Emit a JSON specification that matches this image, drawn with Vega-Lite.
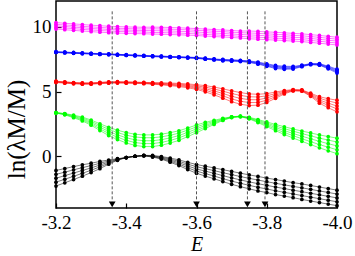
{
"$schema":"https://vega.github.io/schema/vega-lite/v6.json",
"width":281,"height":207,
"autosize":{"type":"none"},
"padding":{"left":56,"top":1,"right":18,"bottom":48},
"background":"white",
"config":{"view":{"stroke":"black","strokeWidth":1.5},
"axis":{"labelFont":"Liberation Serif","titleFont":"Liberation Serif","labelColor":"black","titleColor":"black","domain":false,"tickColor":"black","tickWidth":1.2,"grid":false}},
"data":{"values":[
{"b":"k","l":0,"x":-3.2,"y":-2.3},{"b":"k","l":1,"x":-3.2,"y":-2.0},{"b":"k","l":2,"x":-3.2,"y":-1.7},{"b":"k","l":3,"x":-3.2,"y":-1.4},{"b":"k","l":4,"x":-3.2,"y":-1.1},
{"b":"k","l":0,"x":-3.225,"y":-2.05},{"b":"k","l":1,"x":-3.225,"y":-1.78},{"b":"k","l":2,"x":-3.225,"y":-1.5},{"b":"k","l":3,"x":-3.225,"y":-1.23},{"b":"k","l":4,"x":-3.225,"y":-0.95},
{"b":"k","l":0,"x":-3.25,"y":-1.8},{"b":"k","l":1,"x":-3.25,"y":-1.55},{"b":"k","l":2,"x":-3.25,"y":-1.3},{"b":"k","l":3,"x":-3.25,"y":-1.05},{"b":"k","l":4,"x":-3.25,"y":-0.8},
{"b":"k","l":0,"x":-3.275,"y":-1.54},{"b":"k","l":1,"x":-3.275,"y":-1.32},{"b":"k","l":2,"x":-3.275,"y":-1.1},{"b":"k","l":3,"x":-3.275,"y":-0.88},{"b":"k","l":4,"x":-3.275,"y":-0.66},
{"b":"k","l":0,"x":-3.3,"y":-1.26},{"b":"k","l":1,"x":-3.3,"y":-1.08},{"b":"k","l":2,"x":-3.3,"y":-0.9},{"b":"k","l":3,"x":-3.3,"y":-0.72},{"b":"k","l":4,"x":-3.3,"y":-0.54},
{"b":"k","l":0,"x":-3.325,"y":-0.96},{"b":"k","l":1,"x":-3.325,"y":-0.82},{"b":"k","l":2,"x":-3.325,"y":-0.68},{"b":"k","l":3,"x":-3.325,"y":-0.54},{"b":"k","l":4,"x":-3.325,"y":-0.4},
{"b":"k","l":0,"x":-3.35,"y":-0.61},{"b":"k","l":1,"x":-3.35,"y":-0.53},{"b":"k","l":2,"x":-3.35,"y":-0.45},{"b":"k","l":3,"x":-3.35,"y":-0.37},{"b":"k","l":4,"x":-3.35,"y":-0.29},
{"b":"k","l":0,"x":-3.375,"y":-0.31},{"b":"k","l":1,"x":-3.375,"y":-0.28},{"b":"k","l":2,"x":-3.375,"y":-0.25},{"b":"k","l":3,"x":-3.375,"y":-0.22},{"b":"k","l":4,"x":-3.375,"y":-0.19},
{"b":"k","l":0,"x":-3.4,"y":-0.1},{"b":"k","l":1,"x":-3.4,"y":-0.1},{"b":"k","l":2,"x":-3.4,"y":-0.1},{"b":"k","l":3,"x":-3.4,"y":-0.1},{"b":"k","l":4,"x":-3.4,"y":-0.1},
{"b":"k","l":0,"x":-3.425,"y":0.0},{"b":"k","l":1,"x":-3.425,"y":0.0},{"b":"k","l":2,"x":-3.425,"y":0.0},{"b":"k","l":3,"x":-3.425,"y":0.0},{"b":"k","l":4,"x":-3.425,"y":0.0},
{"b":"k","l":0,"x":-3.45,"y":0.03},{"b":"k","l":1,"x":-3.45,"y":0.04},{"b":"k","l":2,"x":-3.45,"y":0.05},{"b":"k","l":3,"x":-3.45,"y":0.06},{"b":"k","l":4,"x":-3.45,"y":0.07},
{"b":"k","l":0,"x":-3.475,"y":-0.06},{"b":"k","l":1,"x":-3.475,"y":-0.03},{"b":"k","l":2,"x":-3.475,"y":0.0},{"b":"k","l":3,"x":-3.475,"y":0.03},{"b":"k","l":4,"x":-3.475,"y":0.06},
{"b":"k","l":0,"x":-3.5,"y":-0.22},{"b":"k","l":1,"x":-3.5,"y":-0.17},{"b":"k","l":2,"x":-3.5,"y":-0.12},{"b":"k","l":3,"x":-3.5,"y":-0.07},{"b":"k","l":4,"x":-3.5,"y":-0.02},
{"b":"k","l":0,"x":-3.525,"y":-0.46},{"b":"k","l":1,"x":-3.525,"y":-0.38},{"b":"k","l":2,"x":-3.525,"y":-0.3},{"b":"k","l":3,"x":-3.525,"y":-0.22},{"b":"k","l":4,"x":-3.525,"y":-0.14},
{"b":"k","l":0,"x":-3.55,"y":-0.72},{"b":"k","l":1,"x":-3.55,"y":-0.61},{"b":"k","l":2,"x":-3.55,"y":-0.5},{"b":"k","l":3,"x":-3.55,"y":-0.39},{"b":"k","l":4,"x":-3.55,"y":-0.28},
{"b":"k","l":0,"x":-3.575,"y":-1.03},{"b":"k","l":1,"x":-3.575,"y":-0.89},{"b":"k","l":2,"x":-3.575,"y":-0.75},{"b":"k","l":3,"x":-3.575,"y":-0.61},{"b":"k","l":4,"x":-3.575,"y":-0.47},
{"b":"k","l":0,"x":-3.6,"y":-1.32},{"b":"k","l":1,"x":-3.6,"y":-1.15},{"b":"k","l":2,"x":-3.6,"y":-0.98},{"b":"k","l":3,"x":-3.6,"y":-0.81},{"b":"k","l":4,"x":-3.6,"y":-0.64},
{"b":"k","l":0,"x":-3.625,"y":-1.53},{"b":"k","l":1,"x":-3.625,"y":-1.34},{"b":"k","l":2,"x":-3.625,"y":-1.15},{"b":"k","l":3,"x":-3.625,"y":-0.96},{"b":"k","l":4,"x":-3.625,"y":-0.77},
{"b":"k","l":0,"x":-3.65,"y":-1.74},{"b":"k","l":1,"x":-3.65,"y":-1.53},{"b":"k","l":2,"x":-3.65,"y":-1.32},{"b":"k","l":3,"x":-3.65,"y":-1.11},{"b":"k","l":4,"x":-3.65,"y":-0.9},
{"b":"k","l":0,"x":-3.675,"y":-1.96},{"b":"k","l":1,"x":-3.675,"y":-1.73},{"b":"k","l":2,"x":-3.675,"y":-1.5},{"b":"k","l":3,"x":-3.675,"y":-1.27},{"b":"k","l":4,"x":-3.675,"y":-1.04},
{"b":"k","l":0,"x":-3.7,"y":-2.17},{"b":"k","l":1,"x":-3.7,"y":-1.92},{"b":"k","l":2,"x":-3.7,"y":-1.67},{"b":"k","l":3,"x":-3.7,"y":-1.42},{"b":"k","l":4,"x":-3.7,"y":-1.17},
{"b":"k","l":0,"x":-3.725,"y":-2.35},{"b":"k","l":1,"x":-3.725,"y":-2.09},{"b":"k","l":2,"x":-3.725,"y":-1.83},{"b":"k","l":3,"x":-3.725,"y":-1.57},{"b":"k","l":4,"x":-3.725,"y":-1.31},
{"b":"k","l":0,"x":-3.75,"y":-2.52},{"b":"k","l":1,"x":-3.75,"y":-2.25},{"b":"k","l":2,"x":-3.75,"y":-1.98},{"b":"k","l":3,"x":-3.75,"y":-1.71},{"b":"k","l":4,"x":-3.75,"y":-1.44},
{"b":"k","l":0,"x":-3.775,"y":-2.68},{"b":"k","l":1,"x":-3.775,"y":-2.4},{"b":"k","l":2,"x":-3.775,"y":-2.12},{"b":"k","l":3,"x":-3.775,"y":-1.84},{"b":"k","l":4,"x":-3.775,"y":-1.56},
{"b":"k","l":0,"x":-3.8,"y":-2.81},{"b":"k","l":1,"x":-3.8,"y":-2.53},{"b":"k","l":2,"x":-3.8,"y":-2.25},{"b":"k","l":3,"x":-3.8,"y":-1.97},{"b":"k","l":4,"x":-3.8,"y":-1.69},
{"b":"k","l":0,"x":-3.825,"y":-2.96},{"b":"k","l":1,"x":-3.825,"y":-2.67},{"b":"k","l":2,"x":-3.825,"y":-2.38},{"b":"k","l":3,"x":-3.825,"y":-2.09},{"b":"k","l":4,"x":-3.825,"y":-1.8},
{"b":"k","l":0,"x":-3.85,"y":-3.08},{"b":"k","l":1,"x":-3.85,"y":-2.79},{"b":"k","l":2,"x":-3.85,"y":-2.5},{"b":"k","l":3,"x":-3.85,"y":-2.21},{"b":"k","l":4,"x":-3.85,"y":-1.92},
{"b":"k","l":0,"x":-3.875,"y":-3.2},{"b":"k","l":1,"x":-3.875,"y":-2.91},{"b":"k","l":2,"x":-3.875,"y":-2.62},{"b":"k","l":3,"x":-3.875,"y":-2.33},{"b":"k","l":4,"x":-3.875,"y":-2.04},
{"b":"k","l":0,"x":-3.9,"y":-3.34},{"b":"k","l":1,"x":-3.9,"y":-3.04},{"b":"k","l":2,"x":-3.9,"y":-2.74},{"b":"k","l":3,"x":-3.9,"y":-2.44},{"b":"k","l":4,"x":-3.9,"y":-2.14},
{"b":"k","l":0,"x":-3.925,"y":-3.46},{"b":"k","l":1,"x":-3.925,"y":-3.16},{"b":"k","l":2,"x":-3.925,"y":-2.86},{"b":"k","l":3,"x":-3.925,"y":-2.56},{"b":"k","l":4,"x":-3.925,"y":-2.26},
{"b":"k","l":0,"x":-3.95,"y":-3.58},{"b":"k","l":1,"x":-3.95,"y":-3.28},{"b":"k","l":2,"x":-3.95,"y":-2.98},{"b":"k","l":3,"x":-3.95,"y":-2.68},{"b":"k","l":4,"x":-3.95,"y":-2.38},
{"b":"k","l":0,"x":-3.975,"y":-3.7},{"b":"k","l":1,"x":-3.975,"y":-3.4},{"b":"k","l":2,"x":-3.975,"y":-3.1},{"b":"k","l":3,"x":-3.975,"y":-2.8},{"b":"k","l":4,"x":-3.975,"y":-2.5},
{"b":"k","l":0,"x":-4.0,"y":-3.82},{"b":"k","l":1,"x":-4.0,"y":-3.52},{"b":"k","l":2,"x":-4.0,"y":-3.22},{"b":"k","l":3,"x":-4.0,"y":-2.92},{"b":"k","l":4,"x":-4.0,"y":-2.62},

{"b":"g","l":0,"x":-3.2,"y":3.34},{"b":"g","l":1,"x":-3.2,"y":3.35},{"b":"g","l":2,"x":-3.2,"y":3.36},{"b":"g","l":3,"x":-3.2,"y":3.37},{"b":"g","l":4,"x":-3.2,"y":3.38},
{"b":"g","l":0,"x":-3.225,"y":3.2},{"b":"g","l":1,"x":-3.225,"y":3.23},{"b":"g","l":2,"x":-3.225,"y":3.25},{"b":"g","l":3,"x":-3.225,"y":3.28},{"b":"g","l":4,"x":-3.225,"y":3.3},
{"b":"g","l":0,"x":-3.25,"y":2.98},{"b":"g","l":1,"x":-3.25,"y":3.03},{"b":"g","l":2,"x":-3.25,"y":3.08},{"b":"g","l":3,"x":-3.25,"y":3.13},{"b":"g","l":4,"x":-3.25,"y":3.18},
{"b":"g","l":0,"x":-3.275,"y":2.73},{"b":"g","l":1,"x":-3.275,"y":2.81},{"b":"g","l":2,"x":-3.275,"y":2.88},{"b":"g","l":3,"x":-3.275,"y":2.96},{"b":"g","l":4,"x":-3.275,"y":3.03},
{"b":"g","l":0,"x":-3.3,"y":2.4},{"b":"g","l":1,"x":-3.3,"y":2.5},{"b":"g","l":2,"x":-3.3,"y":2.6},{"b":"g","l":3,"x":-3.3,"y":2.7},{"b":"g","l":4,"x":-3.3,"y":2.8},
{"b":"g","l":0,"x":-3.325,"y":1.99},{"b":"g","l":1,"x":-3.325,"y":2.12},{"b":"g","l":2,"x":-3.325,"y":2.25},{"b":"g","l":3,"x":-3.325,"y":2.38},{"b":"g","l":4,"x":-3.325,"y":2.51},
{"b":"g","l":0,"x":-3.35,"y":1.6},{"b":"g","l":1,"x":-3.35,"y":1.76},{"b":"g","l":2,"x":-3.35,"y":1.92},{"b":"g","l":3,"x":-3.35,"y":2.08},{"b":"g","l":4,"x":-3.35,"y":2.24},
{"b":"g","l":0,"x":-3.375,"y":1.29},{"b":"g","l":1,"x":-3.375,"y":1.47},{"b":"g","l":2,"x":-3.375,"y":1.65},{"b":"g","l":3,"x":-3.375,"y":1.83},{"b":"g","l":4,"x":-3.375,"y":2.01},
{"b":"g","l":0,"x":-3.4,"y":1.03},{"b":"g","l":1,"x":-3.4,"y":1.23},{"b":"g","l":2,"x":-3.4,"y":1.43},{"b":"g","l":3,"x":-3.4,"y":1.63},{"b":"g","l":4,"x":-3.4,"y":1.83},
{"b":"g","l":0,"x":-3.425,"y":0.84},{"b":"g","l":1,"x":-3.425,"y":1.06},{"b":"g","l":2,"x":-3.425,"y":1.27},{"b":"g","l":3,"x":-3.425,"y":1.49},{"b":"g","l":4,"x":-3.425,"y":1.7},
{"b":"g","l":0,"x":-3.45,"y":0.75},{"b":"g","l":1,"x":-3.45,"y":0.98},{"b":"g","l":2,"x":-3.45,"y":1.2},{"b":"g","l":3,"x":-3.45,"y":1.43},{"b":"g","l":4,"x":-3.45,"y":1.65},
{"b":"g","l":0,"x":-3.475,"y":0.75},{"b":"g","l":1,"x":-3.475,"y":0.98},{"b":"g","l":2,"x":-3.475,"y":1.2},{"b":"g","l":3,"x":-3.475,"y":1.43},{"b":"g","l":4,"x":-3.475,"y":1.65},
{"b":"g","l":0,"x":-3.5,"y":0.85},{"b":"g","l":1,"x":-3.5,"y":1.07},{"b":"g","l":2,"x":-3.5,"y":1.28},{"b":"g","l":3,"x":-3.5,"y":1.5},{"b":"g","l":4,"x":-3.5,"y":1.71},
{"b":"g","l":0,"x":-3.525,"y":1.02},{"b":"g","l":1,"x":-3.525,"y":1.22},{"b":"g","l":2,"x":-3.525,"y":1.42},{"b":"g","l":3,"x":-3.525,"y":1.62},{"b":"g","l":4,"x":-3.525,"y":1.82},
{"b":"g","l":0,"x":-3.55,"y":1.23},{"b":"g","l":1,"x":-3.55,"y":1.42},{"b":"g","l":2,"x":-3.55,"y":1.6},{"b":"g","l":3,"x":-3.55,"y":1.79},{"b":"g","l":4,"x":-3.55,"y":1.97},
{"b":"g","l":0,"x":-3.575,"y":1.52},{"b":"g","l":1,"x":-3.575,"y":1.69},{"b":"g","l":2,"x":-3.575,"y":1.85},{"b":"g","l":3,"x":-3.575,"y":2.02},{"b":"g","l":4,"x":-3.575,"y":2.18},
{"b":"g","l":0,"x":-3.6,"y":1.82},{"b":"g","l":1,"x":-3.6,"y":1.97},{"b":"g","l":2,"x":-3.6,"y":2.12},{"b":"g","l":3,"x":-3.6,"y":2.27},{"b":"g","l":4,"x":-3.6,"y":2.42},
{"b":"g","l":0,"x":-3.625,"y":2.14},{"b":"g","l":1,"x":-3.625,"y":2.26},{"b":"g","l":2,"x":-3.625,"y":2.38},{"b":"g","l":3,"x":-3.625,"y":2.5},{"b":"g","l":4,"x":-3.625,"y":2.62},
{"b":"g","l":0,"x":-3.65,"y":2.46},{"b":"g","l":1,"x":-3.65,"y":2.54},{"b":"g","l":2,"x":-3.65,"y":2.62},{"b":"g","l":3,"x":-3.65,"y":2.7},{"b":"g","l":4,"x":-3.65,"y":2.78},
{"b":"g","l":0,"x":-3.675,"y":2.77},{"b":"g","l":1,"x":-3.675,"y":2.81},{"b":"g","l":2,"x":-3.675,"y":2.85},{"b":"g","l":3,"x":-3.675,"y":2.89},{"b":"g","l":4,"x":-3.675,"y":2.93},
{"b":"g","l":0,"x":-3.7,"y":2.99},{"b":"g","l":1,"x":-3.7,"y":3.0},{"b":"g","l":2,"x":-3.7,"y":3.02},{"b":"g","l":3,"x":-3.7,"y":3.04},{"b":"g","l":4,"x":-3.7,"y":3.05},
{"b":"g","l":0,"x":-3.725,"y":3.06},{"b":"g","l":1,"x":-3.725,"y":3.07},{"b":"g","l":2,"x":-3.725,"y":3.08},{"b":"g","l":3,"x":-3.725,"y":3.09},{"b":"g","l":4,"x":-3.725,"y":3.1},
{"b":"g","l":0,"x":-3.75,"y":2.89},{"b":"g","l":1,"x":-3.75,"y":2.92},{"b":"g","l":2,"x":-3.75,"y":2.95},{"b":"g","l":3,"x":-3.75,"y":2.98},{"b":"g","l":4,"x":-3.75,"y":3.01},
{"b":"g","l":0,"x":-3.775,"y":2.6},{"b":"g","l":1,"x":-3.775,"y":2.66},{"b":"g","l":2,"x":-3.775,"y":2.72},{"b":"g","l":3,"x":-3.775,"y":2.78},{"b":"g","l":4,"x":-3.775,"y":2.84},
{"b":"g","l":0,"x":-3.8,"y":2.29},{"b":"g","l":1,"x":-3.8,"y":2.38},{"b":"g","l":2,"x":-3.8,"y":2.47},{"b":"g","l":3,"x":-3.8,"y":2.56},{"b":"g","l":4,"x":-3.8,"y":2.65},
{"b":"g","l":0,"x":-3.825,"y":1.98},{"b":"g","l":1,"x":-3.825,"y":2.1},{"b":"g","l":2,"x":-3.825,"y":2.22},{"b":"g","l":3,"x":-3.825,"y":2.34},{"b":"g","l":4,"x":-3.825,"y":2.46},
{"b":"g","l":0,"x":-3.85,"y":1.68},{"b":"g","l":1,"x":-3.85,"y":1.83},{"b":"g","l":2,"x":-3.85,"y":1.98},{"b":"g","l":3,"x":-3.85,"y":2.13},{"b":"g","l":4,"x":-3.85,"y":2.28},
{"b":"g","l":0,"x":-3.875,"y":1.41},{"b":"g","l":1,"x":-3.875,"y":1.59},{"b":"g","l":2,"x":-3.875,"y":1.76},{"b":"g","l":3,"x":-3.875,"y":1.94},{"b":"g","l":4,"x":-3.875,"y":2.11},
{"b":"g","l":0,"x":-3.9,"y":1.15},{"b":"g","l":1,"x":-3.9,"y":1.35},{"b":"g","l":2,"x":-3.9,"y":1.55},{"b":"g","l":3,"x":-3.9,"y":1.75},{"b":"g","l":4,"x":-3.9,"y":1.95},
{"b":"g","l":0,"x":-3.925,"y":0.9},{"b":"g","l":1,"x":-3.925,"y":1.13},{"b":"g","l":2,"x":-3.925,"y":1.35},{"b":"g","l":3,"x":-3.925,"y":1.58},{"b":"g","l":4,"x":-3.925,"y":1.8},
{"b":"g","l":0,"x":-3.95,"y":0.65},{"b":"g","l":1,"x":-3.95,"y":0.9},{"b":"g","l":2,"x":-3.95,"y":1.15},{"b":"g","l":3,"x":-3.95,"y":1.4},{"b":"g","l":4,"x":-3.95,"y":1.65},
{"b":"g","l":0,"x":-3.975,"y":0.42},{"b":"g","l":1,"x":-3.975,"y":0.7},{"b":"g","l":2,"x":-3.975,"y":0.97},{"b":"g","l":3,"x":-3.975,"y":1.25},{"b":"g","l":4,"x":-3.975,"y":1.52},
{"b":"g","l":0,"x":-4.0,"y":0.2},{"b":"g","l":1,"x":-4.0,"y":0.5},{"b":"g","l":2,"x":-4.0,"y":0.8},{"b":"g","l":3,"x":-4.0,"y":1.1},{"b":"g","l":4,"x":-4.0,"y":1.4},

{"b":"r","l":0,"x":-3.2,"y":5.7},{"b":"r","l":1,"x":-3.2,"y":5.73},{"b":"r","l":2,"x":-3.2,"y":5.75},{"b":"r","l":3,"x":-3.2,"y":5.78},{"b":"r","l":4,"x":-3.2,"y":5.8},
{"b":"r","l":0,"x":-3.225,"y":5.65},{"b":"r","l":1,"x":-3.225,"y":5.68},{"b":"r","l":2,"x":-3.225,"y":5.7},{"b":"r","l":3,"x":-3.225,"y":5.73},{"b":"r","l":4,"x":-3.225,"y":5.75},
{"b":"r","l":0,"x":-3.25,"y":5.6},{"b":"r","l":1,"x":-3.25,"y":5.63},{"b":"r","l":2,"x":-3.25,"y":5.65},{"b":"r","l":3,"x":-3.25,"y":5.68},{"b":"r","l":4,"x":-3.25,"y":5.7},
{"b":"r","l":0,"x":-3.275,"y":5.57},{"b":"r","l":1,"x":-3.275,"y":5.6},{"b":"r","l":2,"x":-3.275,"y":5.62},{"b":"r","l":3,"x":-3.275,"y":5.65},{"b":"r","l":4,"x":-3.275,"y":5.67},
{"b":"r","l":0,"x":-3.3,"y":5.57},{"b":"r","l":1,"x":-3.3,"y":5.6},{"b":"r","l":2,"x":-3.3,"y":5.62},{"b":"r","l":3,"x":-3.3,"y":5.65},{"b":"r","l":4,"x":-3.3,"y":5.67},
{"b":"r","l":0,"x":-3.325,"y":5.61},{"b":"r","l":1,"x":-3.325,"y":5.64},{"b":"r","l":2,"x":-3.325,"y":5.66},{"b":"r","l":3,"x":-3.325,"y":5.69},{"b":"r","l":4,"x":-3.325,"y":5.71},
{"b":"r","l":0,"x":-3.35,"y":5.65},{"b":"r","l":1,"x":-3.35,"y":5.68},{"b":"r","l":2,"x":-3.35,"y":5.7},{"b":"r","l":3,"x":-3.35,"y":5.73},{"b":"r","l":4,"x":-3.35,"y":5.75},
{"b":"r","l":0,"x":-3.375,"y":5.66},{"b":"r","l":1,"x":-3.375,"y":5.69},{"b":"r","l":2,"x":-3.375,"y":5.71},{"b":"r","l":3,"x":-3.375,"y":5.74},{"b":"r","l":4,"x":-3.375,"y":5.76},
{"b":"r","l":0,"x":-3.4,"y":5.65},{"b":"r","l":1,"x":-3.4,"y":5.68},{"b":"r","l":2,"x":-3.4,"y":5.7},{"b":"r","l":3,"x":-3.4,"y":5.73},{"b":"r","l":4,"x":-3.4,"y":5.75},
{"b":"r","l":0,"x":-3.425,"y":5.63},{"b":"r","l":1,"x":-3.425,"y":5.66},{"b":"r","l":2,"x":-3.425,"y":5.68},{"b":"r","l":3,"x":-3.425,"y":5.71},{"b":"r","l":4,"x":-3.425,"y":5.73},
{"b":"r","l":0,"x":-3.45,"y":5.61},{"b":"r","l":1,"x":-3.45,"y":5.64},{"b":"r","l":2,"x":-3.45,"y":5.66},{"b":"r","l":3,"x":-3.45,"y":5.69},{"b":"r","l":4,"x":-3.45,"y":5.71},
{"b":"r","l":0,"x":-3.475,"y":5.57},{"b":"r","l":1,"x":-3.475,"y":5.6},{"b":"r","l":2,"x":-3.475,"y":5.63},{"b":"r","l":3,"x":-3.475,"y":5.66},{"b":"r","l":4,"x":-3.475,"y":5.69},
{"b":"r","l":0,"x":-3.5,"y":5.52},{"b":"r","l":1,"x":-3.5,"y":5.56},{"b":"r","l":2,"x":-3.5,"y":5.6},{"b":"r","l":3,"x":-3.5,"y":5.64},{"b":"r","l":4,"x":-3.5,"y":5.68},
{"b":"r","l":0,"x":-3.525,"y":5.46},{"b":"r","l":1,"x":-3.525,"y":5.51},{"b":"r","l":2,"x":-3.525,"y":5.56},{"b":"r","l":3,"x":-3.525,"y":5.61},{"b":"r","l":4,"x":-3.525,"y":5.66},
{"b":"r","l":0,"x":-3.55,"y":5.39},{"b":"r","l":1,"x":-3.55,"y":5.45},{"b":"r","l":2,"x":-3.55,"y":5.51},{"b":"r","l":3,"x":-3.55,"y":5.57},{"b":"r","l":4,"x":-3.55,"y":5.63},
{"b":"r","l":0,"x":-3.575,"y":5.29},{"b":"r","l":1,"x":-3.575,"y":5.37},{"b":"r","l":2,"x":-3.575,"y":5.44},{"b":"r","l":3,"x":-3.575,"y":5.52},{"b":"r","l":4,"x":-3.575,"y":5.59},
{"b":"r","l":0,"x":-3.6,"y":5.17},{"b":"r","l":1,"x":-3.6,"y":5.26},{"b":"r","l":2,"x":-3.6,"y":5.35},{"b":"r","l":3,"x":-3.6,"y":5.44},{"b":"r","l":4,"x":-3.6,"y":5.53},
{"b":"r","l":0,"x":-3.625,"y":4.98},{"b":"r","l":1,"x":-3.625,"y":5.1},{"b":"r","l":2,"x":-3.625,"y":5.22},{"b":"r","l":3,"x":-3.625,"y":5.34},{"b":"r","l":4,"x":-3.625,"y":5.46},
{"b":"r","l":0,"x":-3.65,"y":4.75},{"b":"r","l":1,"x":-3.65,"y":4.9},{"b":"r","l":2,"x":-3.65,"y":5.05},{"b":"r","l":3,"x":-3.65,"y":5.2},{"b":"r","l":4,"x":-3.65,"y":5.35},
{"b":"r","l":0,"x":-3.675,"y":4.49},{"b":"r","l":1,"x":-3.675,"y":4.67},{"b":"r","l":2,"x":-3.675,"y":4.85},{"b":"r","l":3,"x":-3.675,"y":5.03},{"b":"r","l":4,"x":-3.675,"y":5.21},
{"b":"r","l":0,"x":-3.7,"y":4.22},{"b":"r","l":1,"x":-3.7,"y":4.43},{"b":"r","l":2,"x":-3.7,"y":4.64},{"b":"r","l":3,"x":-3.7,"y":4.85},{"b":"r","l":4,"x":-3.7,"y":5.06},
{"b":"r","l":0,"x":-3.725,"y":4.02},{"b":"r","l":1,"x":-3.725,"y":4.25},{"b":"r","l":2,"x":-3.725,"y":4.47},{"b":"r","l":3,"x":-3.725,"y":4.7},{"b":"r","l":4,"x":-3.725,"y":4.92},
{"b":"r","l":0,"x":-3.75,"y":3.92},{"b":"r","l":1,"x":-3.75,"y":4.15},{"b":"r","l":2,"x":-3.75,"y":4.37},{"b":"r","l":3,"x":-3.75,"y":4.6},{"b":"r","l":4,"x":-3.75,"y":4.82},
{"b":"r","l":0,"x":-3.775,"y":3.95},{"b":"r","l":1,"x":-3.775,"y":4.16},{"b":"r","l":2,"x":-3.775,"y":4.37},{"b":"r","l":3,"x":-3.775,"y":4.58},{"b":"r","l":4,"x":-3.775,"y":4.79},
{"b":"r","l":0,"x":-3.8,"y":4.16},{"b":"r","l":1,"x":-3.8,"y":4.33},{"b":"r","l":2,"x":-3.8,"y":4.5},{"b":"r","l":3,"x":-3.8,"y":4.67},{"b":"r","l":4,"x":-3.8,"y":4.84},
{"b":"r","l":0,"x":-3.825,"y":4.48},{"b":"r","l":1,"x":-3.825,"y":4.6},{"b":"r","l":2,"x":-3.825,"y":4.72},{"b":"r","l":3,"x":-3.825,"y":4.84},{"b":"r","l":4,"x":-3.825,"y":4.96},
{"b":"r","l":0,"x":-3.85,"y":4.82},{"b":"r","l":1,"x":-3.85,"y":4.89},{"b":"r","l":2,"x":-3.85,"y":4.95},{"b":"r","l":3,"x":-3.85,"y":5.02},{"b":"r","l":4,"x":-3.85,"y":5.08},
{"b":"r","l":0,"x":-3.875,"y":5.05},{"b":"r","l":1,"x":-3.875,"y":5.08},{"b":"r","l":2,"x":-3.875,"y":5.1},{"b":"r","l":3,"x":-3.875,"y":5.13},{"b":"r","l":4,"x":-3.875,"y":5.15},
{"b":"r","l":0,"x":-3.9,"y":5.03},{"b":"r","l":1,"x":-3.9,"y":5.06},{"b":"r","l":2,"x":-3.9,"y":5.08},{"b":"r","l":3,"x":-3.9,"y":5.11},{"b":"r","l":4,"x":-3.9,"y":5.13},
{"b":"r","l":0,"x":-3.925,"y":4.63},{"b":"r","l":1,"x":-3.925,"y":4.69},{"b":"r","l":2,"x":-3.925,"y":4.75},{"b":"r","l":3,"x":-3.925,"y":4.81},{"b":"r","l":4,"x":-3.925,"y":4.87},
{"b":"r","l":0,"x":-3.95,"y":4.1},{"b":"r","l":1,"x":-3.95,"y":4.23},{"b":"r","l":2,"x":-3.95,"y":4.35},{"b":"r","l":3,"x":-3.95,"y":4.48},{"b":"r","l":4,"x":-3.95,"y":4.6},
{"b":"r","l":0,"x":-3.975,"y":3.75},{"b":"r","l":1,"x":-3.975,"y":3.93},{"b":"r","l":2,"x":-3.975,"y":4.1},{"b":"r","l":3,"x":-3.975,"y":4.28},{"b":"r","l":4,"x":-3.975,"y":4.45},
{"b":"r","l":0,"x":-4.0,"y":3.43},{"b":"r","l":1,"x":-4.0,"y":3.66},{"b":"r","l":2,"x":-4.0,"y":3.88},{"b":"r","l":3,"x":-4.0,"y":4.11},{"b":"r","l":4,"x":-4.0,"y":4.33},

{"b":"u","l":0,"x":-3.2,"y":8.02},{"b":"u","l":1,"x":-3.2,"y":8.03},{"b":"u","l":2,"x":-3.2,"y":8.05},{"b":"u","l":3,"x":-3.2,"y":8.07},{"b":"u","l":4,"x":-3.2,"y":8.08},
{"b":"u","l":0,"x":-3.225,"y":7.99},{"b":"u","l":1,"x":-3.225,"y":8.0},{"b":"u","l":2,"x":-3.225,"y":8.02},{"b":"u","l":3,"x":-3.225,"y":8.04},{"b":"u","l":4,"x":-3.225,"y":8.05},
{"b":"u","l":0,"x":-3.25,"y":7.96},{"b":"u","l":1,"x":-3.25,"y":7.97},{"b":"u","l":2,"x":-3.25,"y":7.99},{"b":"u","l":3,"x":-3.25,"y":8.01},{"b":"u","l":4,"x":-3.25,"y":8.02},
{"b":"u","l":0,"x":-3.275,"y":7.93},{"b":"u","l":1,"x":-3.275,"y":7.94},{"b":"u","l":2,"x":-3.275,"y":7.96},{"b":"u","l":3,"x":-3.275,"y":7.98},{"b":"u","l":4,"x":-3.275,"y":7.99},
{"b":"u","l":0,"x":-3.3,"y":7.9},{"b":"u","l":1,"x":-3.3,"y":7.91},{"b":"u","l":2,"x":-3.3,"y":7.93},{"b":"u","l":3,"x":-3.3,"y":7.95},{"b":"u","l":4,"x":-3.3,"y":7.96},
{"b":"u","l":0,"x":-3.325,"y":7.87},{"b":"u","l":1,"x":-3.325,"y":7.88},{"b":"u","l":2,"x":-3.325,"y":7.9},{"b":"u","l":3,"x":-3.325,"y":7.92},{"b":"u","l":4,"x":-3.325,"y":7.93},
{"b":"u","l":0,"x":-3.35,"y":7.85},{"b":"u","l":1,"x":-3.35,"y":7.86},{"b":"u","l":2,"x":-3.35,"y":7.88},{"b":"u","l":3,"x":-3.35,"y":7.9},{"b":"u","l":4,"x":-3.35,"y":7.91},
{"b":"u","l":0,"x":-3.375,"y":7.82},{"b":"u","l":1,"x":-3.375,"y":7.83},{"b":"u","l":2,"x":-3.375,"y":7.85},{"b":"u","l":3,"x":-3.375,"y":7.87},{"b":"u","l":4,"x":-3.375,"y":7.88},
{"b":"u","l":0,"x":-3.4,"y":7.79},{"b":"u","l":1,"x":-3.4,"y":7.8},{"b":"u","l":2,"x":-3.4,"y":7.82},{"b":"u","l":3,"x":-3.4,"y":7.84},{"b":"u","l":4,"x":-3.4,"y":7.85},
{"b":"u","l":0,"x":-3.425,"y":7.76},{"b":"u","l":1,"x":-3.425,"y":7.77},{"b":"u","l":2,"x":-3.425,"y":7.79},{"b":"u","l":3,"x":-3.425,"y":7.81},{"b":"u","l":4,"x":-3.425,"y":7.82},
{"b":"u","l":0,"x":-3.45,"y":7.73},{"b":"u","l":1,"x":-3.45,"y":7.74},{"b":"u","l":2,"x":-3.45,"y":7.76},{"b":"u","l":3,"x":-3.45,"y":7.78},{"b":"u","l":4,"x":-3.45,"y":7.79},
{"b":"u","l":0,"x":-3.475,"y":7.7},{"b":"u","l":1,"x":-3.475,"y":7.71},{"b":"u","l":2,"x":-3.475,"y":7.73},{"b":"u","l":3,"x":-3.475,"y":7.75},{"b":"u","l":4,"x":-3.475,"y":7.76},
{"b":"u","l":0,"x":-3.5,"y":7.68},{"b":"u","l":1,"x":-3.5,"y":7.69},{"b":"u","l":2,"x":-3.5,"y":7.71},{"b":"u","l":3,"x":-3.5,"y":7.73},{"b":"u","l":4,"x":-3.5,"y":7.74},
{"b":"u","l":0,"x":-3.525,"y":7.65},{"b":"u","l":1,"x":-3.525,"y":7.66},{"b":"u","l":2,"x":-3.525,"y":7.68},{"b":"u","l":3,"x":-3.525,"y":7.7},{"b":"u","l":4,"x":-3.525,"y":7.71},
{"b":"u","l":0,"x":-3.55,"y":7.63},{"b":"u","l":1,"x":-3.55,"y":7.64},{"b":"u","l":2,"x":-3.55,"y":7.66},{"b":"u","l":3,"x":-3.55,"y":7.68},{"b":"u","l":4,"x":-3.55,"y":7.69},
{"b":"u","l":0,"x":-3.575,"y":7.6},{"b":"u","l":1,"x":-3.575,"y":7.61},{"b":"u","l":2,"x":-3.575,"y":7.63},{"b":"u","l":3,"x":-3.575,"y":7.65},{"b":"u","l":4,"x":-3.575,"y":7.66},
{"b":"u","l":0,"x":-3.6,"y":7.56},{"b":"u","l":1,"x":-3.6,"y":7.58},{"b":"u","l":2,"x":-3.6,"y":7.6},{"b":"u","l":3,"x":-3.6,"y":7.62},{"b":"u","l":4,"x":-3.6,"y":7.64},
{"b":"u","l":0,"x":-3.625,"y":7.5},{"b":"u","l":1,"x":-3.625,"y":7.52},{"b":"u","l":2,"x":-3.625,"y":7.54},{"b":"u","l":3,"x":-3.625,"y":7.56},{"b":"u","l":4,"x":-3.625,"y":7.58},
{"b":"u","l":0,"x":-3.65,"y":7.44},{"b":"u","l":1,"x":-3.65,"y":7.46},{"b":"u","l":2,"x":-3.65,"y":7.48},{"b":"u","l":3,"x":-3.65,"y":7.5},{"b":"u","l":4,"x":-3.65,"y":7.52},
{"b":"u","l":0,"x":-3.675,"y":7.38},{"b":"u","l":1,"x":-3.675,"y":7.41},{"b":"u","l":2,"x":-3.675,"y":7.43},{"b":"u","l":3,"x":-3.675,"y":7.46},{"b":"u","l":4,"x":-3.675,"y":7.48},
{"b":"u","l":0,"x":-3.7,"y":7.35},{"b":"u","l":1,"x":-3.7,"y":7.38},{"b":"u","l":2,"x":-3.7,"y":7.4},{"b":"u","l":3,"x":-3.7,"y":7.43},{"b":"u","l":4,"x":-3.7,"y":7.45},
{"b":"u","l":0,"x":-3.725,"y":7.32},{"b":"u","l":1,"x":-3.725,"y":7.35},{"b":"u","l":2,"x":-3.725,"y":7.37},{"b":"u","l":3,"x":-3.725,"y":7.4},{"b":"u","l":4,"x":-3.725,"y":7.42},
{"b":"u","l":0,"x":-3.75,"y":7.25},{"b":"u","l":1,"x":-3.75,"y":7.28},{"b":"u","l":2,"x":-3.75,"y":7.31},{"b":"u","l":3,"x":-3.75,"y":7.34},{"b":"u","l":4,"x":-3.75,"y":7.37},
{"b":"u","l":0,"x":-3.775,"y":7.12},{"b":"u","l":1,"x":-3.775,"y":7.16},{"b":"u","l":2,"x":-3.775,"y":7.2},{"b":"u","l":3,"x":-3.775,"y":7.24},{"b":"u","l":4,"x":-3.775,"y":7.28},
{"b":"u","l":0,"x":-3.8,"y":6.95},{"b":"u","l":1,"x":-3.8,"y":7.0},{"b":"u","l":2,"x":-3.8,"y":7.05},{"b":"u","l":3,"x":-3.8,"y":7.1},{"b":"u","l":4,"x":-3.8,"y":7.15},
{"b":"u","l":0,"x":-3.825,"y":6.78},{"b":"u","l":1,"x":-3.825,"y":6.84},{"b":"u","l":2,"x":-3.825,"y":6.9},{"b":"u","l":3,"x":-3.825,"y":6.96},{"b":"u","l":4,"x":-3.825,"y":7.02},
{"b":"u","l":0,"x":-3.85,"y":6.72},{"b":"u","l":1,"x":-3.85,"y":6.78},{"b":"u","l":2,"x":-3.85,"y":6.84},{"b":"u","l":3,"x":-3.85,"y":6.9},{"b":"u","l":4,"x":-3.85,"y":6.96},
{"b":"u","l":0,"x":-3.875,"y":6.74},{"b":"u","l":1,"x":-3.875,"y":6.79},{"b":"u","l":2,"x":-3.875,"y":6.84},{"b":"u","l":3,"x":-3.875,"y":6.89},{"b":"u","l":4,"x":-3.875,"y":6.94},
{"b":"u","l":0,"x":-3.9,"y":6.92},{"b":"u","l":1,"x":-3.9,"y":6.95},{"b":"u","l":2,"x":-3.9,"y":6.98},{"b":"u","l":3,"x":-3.9,"y":7.01},{"b":"u","l":4,"x":-3.9,"y":7.04},
{"b":"u","l":0,"x":-3.925,"y":7.08},{"b":"u","l":1,"x":-3.925,"y":7.1},{"b":"u","l":2,"x":-3.925,"y":7.12},{"b":"u","l":3,"x":-3.925,"y":7.14},{"b":"u","l":4,"x":-3.925,"y":7.16},
{"b":"u","l":0,"x":-3.95,"y":7.04},{"b":"u","l":1,"x":-3.95,"y":7.07},{"b":"u","l":2,"x":-3.95,"y":7.1},{"b":"u","l":3,"x":-3.95,"y":7.13},{"b":"u","l":4,"x":-3.95,"y":7.16},
{"b":"u","l":0,"x":-3.975,"y":6.76},{"b":"u","l":1,"x":-3.975,"y":6.81},{"b":"u","l":2,"x":-3.975,"y":6.86},{"b":"u","l":3,"x":-3.975,"y":6.91},{"b":"u","l":4,"x":-3.975,"y":6.96},
{"b":"u","l":0,"x":-4.0,"y":6.43},{"b":"u","l":1,"x":-4.0,"y":6.51},{"b":"u","l":2,"x":-4.0,"y":6.58},{"b":"u","l":3,"x":-4.0,"y":6.66},{"b":"u","l":4,"x":-4.0,"y":6.73},

{"b":"m","l":0,"x":-3.2,"y":9.83},{"b":"m","l":1,"x":-3.2,"y":9.96},{"b":"m","l":2,"x":-3.2,"y":10.08},{"b":"m","l":3,"x":-3.2,"y":10.2},{"b":"m","l":4,"x":-3.2,"y":10.33},
{"b":"m","l":0,"x":-3.225,"y":9.78},{"b":"m","l":1,"x":-3.225,"y":9.91},{"b":"m","l":2,"x":-3.225,"y":10.03},{"b":"m","l":3,"x":-3.225,"y":10.15},{"b":"m","l":4,"x":-3.225,"y":10.28},
{"b":"m","l":0,"x":-3.25,"y":9.73},{"b":"m","l":1,"x":-3.25,"y":9.86},{"b":"m","l":2,"x":-3.25,"y":9.98},{"b":"m","l":3,"x":-3.25,"y":10.1},{"b":"m","l":4,"x":-3.25,"y":10.23},
{"b":"m","l":0,"x":-3.275,"y":9.68},{"b":"m","l":1,"x":-3.275,"y":9.81},{"b":"m","l":2,"x":-3.275,"y":9.93},{"b":"m","l":3,"x":-3.275,"y":10.05},{"b":"m","l":4,"x":-3.275,"y":10.18},
{"b":"m","l":0,"x":-3.3,"y":9.63},{"b":"m","l":1,"x":-3.3,"y":9.76},{"b":"m","l":2,"x":-3.3,"y":9.88},{"b":"m","l":3,"x":-3.3,"y":10.0},{"b":"m","l":4,"x":-3.3,"y":10.13},
{"b":"m","l":0,"x":-3.325,"y":9.59},{"b":"m","l":1,"x":-3.325,"y":9.72},{"b":"m","l":2,"x":-3.325,"y":9.84},{"b":"m","l":3,"x":-3.325,"y":9.96},{"b":"m","l":4,"x":-3.325,"y":10.09},
{"b":"m","l":0,"x":-3.35,"y":9.55},{"b":"m","l":1,"x":-3.35,"y":9.68},{"b":"m","l":2,"x":-3.35,"y":9.8},{"b":"m","l":3,"x":-3.35,"y":9.92},{"b":"m","l":4,"x":-3.35,"y":10.05},
{"b":"m","l":0,"x":-3.375,"y":9.52},{"b":"m","l":1,"x":-3.375,"y":9.65},{"b":"m","l":2,"x":-3.375,"y":9.77},{"b":"m","l":3,"x":-3.375,"y":9.89},{"b":"m","l":4,"x":-3.375,"y":10.02},
{"b":"m","l":0,"x":-3.4,"y":9.5},{"b":"m","l":1,"x":-3.4,"y":9.63},{"b":"m","l":2,"x":-3.4,"y":9.75},{"b":"m","l":3,"x":-3.4,"y":9.87},{"b":"m","l":4,"x":-3.4,"y":10.0},
{"b":"m","l":0,"x":-3.425,"y":9.48},{"b":"m","l":1,"x":-3.425,"y":9.61},{"b":"m","l":2,"x":-3.425,"y":9.73},{"b":"m","l":3,"x":-3.425,"y":9.85},{"b":"m","l":4,"x":-3.425,"y":9.98},
{"b":"m","l":0,"x":-3.45,"y":9.47},{"b":"m","l":1,"x":-3.45,"y":9.6},{"b":"m","l":2,"x":-3.45,"y":9.72},{"b":"m","l":3,"x":-3.45,"y":9.84},{"b":"m","l":4,"x":-3.45,"y":9.97},
{"b":"m","l":0,"x":-3.475,"y":9.44},{"b":"m","l":1,"x":-3.475,"y":9.57},{"b":"m","l":2,"x":-3.475,"y":9.71},{"b":"m","l":3,"x":-3.475,"y":9.85},{"b":"m","l":4,"x":-3.475,"y":9.98},
{"b":"m","l":0,"x":-3.5,"y":9.43},{"b":"m","l":1,"x":-3.5,"y":9.56},{"b":"m","l":2,"x":-3.5,"y":9.7},{"b":"m","l":3,"x":-3.5,"y":9.84},{"b":"m","l":4,"x":-3.5,"y":9.97},
{"b":"m","l":0,"x":-3.525,"y":9.41},{"b":"m","l":1,"x":-3.525,"y":9.54},{"b":"m","l":2,"x":-3.525,"y":9.68},{"b":"m","l":3,"x":-3.525,"y":9.82},{"b":"m","l":4,"x":-3.525,"y":9.95},
{"b":"m","l":0,"x":-3.55,"y":9.39},{"b":"m","l":1,"x":-3.55,"y":9.52},{"b":"m","l":2,"x":-3.55,"y":9.66},{"b":"m","l":3,"x":-3.55,"y":9.8},{"b":"m","l":4,"x":-3.55,"y":9.93},
{"b":"m","l":0,"x":-3.575,"y":9.36},{"b":"m","l":1,"x":-3.575,"y":9.49},{"b":"m","l":2,"x":-3.575,"y":9.63},{"b":"m","l":3,"x":-3.575,"y":9.77},{"b":"m","l":4,"x":-3.575,"y":9.9},
{"b":"m","l":0,"x":-3.6,"y":9.33},{"b":"m","l":1,"x":-3.6,"y":9.46},{"b":"m","l":2,"x":-3.6,"y":9.6},{"b":"m","l":3,"x":-3.6,"y":9.74},{"b":"m","l":4,"x":-3.6,"y":9.87},
{"b":"m","l":0,"x":-3.625,"y":9.29},{"b":"m","l":1,"x":-3.625,"y":9.42},{"b":"m","l":2,"x":-3.625,"y":9.56},{"b":"m","l":3,"x":-3.625,"y":9.7},{"b":"m","l":4,"x":-3.625,"y":9.83},
{"b":"m","l":0,"x":-3.65,"y":9.25},{"b":"m","l":1,"x":-3.65,"y":9.38},{"b":"m","l":2,"x":-3.65,"y":9.52},{"b":"m","l":3,"x":-3.65,"y":9.66},{"b":"m","l":4,"x":-3.65,"y":9.79},
{"b":"m","l":0,"x":-3.675,"y":9.22},{"b":"m","l":1,"x":-3.675,"y":9.35},{"b":"m","l":2,"x":-3.675,"y":9.49},{"b":"m","l":3,"x":-3.675,"y":9.63},{"b":"m","l":4,"x":-3.675,"y":9.76},
{"b":"m","l":0,"x":-3.7,"y":9.18},{"b":"m","l":1,"x":-3.7,"y":9.31},{"b":"m","l":2,"x":-3.7,"y":9.45},{"b":"m","l":3,"x":-3.7,"y":9.59},{"b":"m","l":4,"x":-3.7,"y":9.72},
{"b":"m","l":0,"x":-3.725,"y":9.14},{"b":"m","l":1,"x":-3.725,"y":9.27},{"b":"m","l":2,"x":-3.725,"y":9.41},{"b":"m","l":3,"x":-3.725,"y":9.55},{"b":"m","l":4,"x":-3.725,"y":9.68},
{"b":"m","l":0,"x":-3.75,"y":9.08},{"b":"m","l":1,"x":-3.75,"y":9.23},{"b":"m","l":2,"x":-3.75,"y":9.38},{"b":"m","l":3,"x":-3.75,"y":9.53},{"b":"m","l":4,"x":-3.75,"y":9.68},
{"b":"m","l":0,"x":-3.775,"y":9.05},{"b":"m","l":1,"x":-3.775,"y":9.2},{"b":"m","l":2,"x":-3.775,"y":9.35},{"b":"m","l":3,"x":-3.775,"y":9.5},{"b":"m","l":4,"x":-3.775,"y":9.65},
{"b":"m","l":0,"x":-3.8,"y":9.01},{"b":"m","l":1,"x":-3.8,"y":9.16},{"b":"m","l":2,"x":-3.8,"y":9.31},{"b":"m","l":3,"x":-3.8,"y":9.46},{"b":"m","l":4,"x":-3.8,"y":9.61},
{"b":"m","l":0,"x":-3.825,"y":8.98},{"b":"m","l":1,"x":-3.825,"y":9.13},{"b":"m","l":2,"x":-3.825,"y":9.28},{"b":"m","l":3,"x":-3.825,"y":9.43},{"b":"m","l":4,"x":-3.825,"y":9.58},
{"b":"m","l":0,"x":-3.85,"y":8.94},{"b":"m","l":1,"x":-3.85,"y":9.09},{"b":"m","l":2,"x":-3.85,"y":9.24},{"b":"m","l":3,"x":-3.85,"y":9.39},{"b":"m","l":4,"x":-3.85,"y":9.54},
{"b":"m","l":0,"x":-3.875,"y":8.9},{"b":"m","l":1,"x":-3.875,"y":9.05},{"b":"m","l":2,"x":-3.875,"y":9.2},{"b":"m","l":3,"x":-3.875,"y":9.35},{"b":"m","l":4,"x":-3.875,"y":9.5},
{"b":"m","l":0,"x":-3.9,"y":8.86},{"b":"m","l":1,"x":-3.9,"y":9.01},{"b":"m","l":2,"x":-3.9,"y":9.16},{"b":"m","l":3,"x":-3.9,"y":9.31},{"b":"m","l":4,"x":-3.9,"y":9.46},
{"b":"m","l":0,"x":-3.925,"y":8.8},{"b":"m","l":1,"x":-3.925,"y":8.95},{"b":"m","l":2,"x":-3.925,"y":9.1},{"b":"m","l":3,"x":-3.925,"y":9.25},{"b":"m","l":4,"x":-3.925,"y":9.4},
{"b":"m","l":0,"x":-3.95,"y":8.74},{"b":"m","l":1,"x":-3.95,"y":8.89},{"b":"m","l":2,"x":-3.95,"y":9.04},{"b":"m","l":3,"x":-3.95,"y":9.19},{"b":"m","l":4,"x":-3.95,"y":9.34},
{"b":"m","l":0,"x":-3.975,"y":8.67},{"b":"m","l":1,"x":-3.975,"y":8.82},{"b":"m","l":2,"x":-3.975,"y":8.97},{"b":"m","l":3,"x":-3.975,"y":9.12},{"b":"m","l":4,"x":-3.975,"y":9.27},
{"b":"m","l":0,"x":-4.0,"y":8.6},{"b":"m","l":1,"x":-4.0,"y":8.75},{"b":"m","l":2,"x":-4.0,"y":8.9},{"b":"m","l":3,"x":-4.0,"y":9.05},{"b":"m","l":4,"x":-4.0,"y":9.2}
]},
"layer":[
{"mark":{"type":"line","strokeWidth":0.7,"opacity":0.75},
 "encoding":{
  "x":{"field":"x","type":"quantitative","scale":{"domain":[-4.0,-3.2],"reverse":true,"nice":false,"zero":false},
   "axis":{"orient":"bottom","values":[-3.2,-3.3,-3.4,-3.5,-3.6,-3.7,-3.8,-3.9,-4.0],"labelExpr":"abs(round(datum.value*10))%2==0 ? '-' + format(abs(datum.value),'.1f') : ''","tickSize":-5,"labelPadding":10,"labelFontSize":19,"title":"E","titleFontSize":20,"titleFontStyle":"italic","titleFontWeight":"normal","titlePadding":2,"labelFlush":false}},
  "y":{"field":"y","type":"quantitative","scale":{"domain":[-4,12],"nice":false,"zero":false},
   "axis":{"values":[0,5,10],"tickSize":-5,"labelPadding":10,"labelFontSize":19,"title":"ln(λM/M)","titleFontSize":25,"titleFontWeight":"normal","titleAngle":-90,"titleX":-40,"titleY":128,"titleAlign":"center","titleBaseline":"middle"}},
  "detail":{"field":"l","type":"nominal"},
  "color":{"field":"b","type":"nominal","scale":{"domain":["k","g","r","u","m"],"range":["#000000","#00ff00","#ff0000","#0000ff","#ff00ff"]},"legend":null}
 }},
{"mark":{"type":"point","filled":true,"size":14,"opacity":1},
 "encoding":{
  "x":{"field":"x","type":"quantitative"},
  "y":{"field":"y","type":"quantitative"},
  "color":{"field":"b","type":"nominal","legend":null}
 }},
{"data":{"values":[{"e":-3.36},{"e":-3.6},{"e":-3.745},{"e":-3.795}]},
 "layer":[
  {"mark":{"type":"rule","strokeDash":[3,2],"color":"#555555","strokeWidth":1},
   "encoding":{"x":{"field":"e","type":"quantitative"},"y":{"datum":11.2},"y2":{"datum":-3.5}}},
  {"mark":{"type":"point","shape":"triangle-down","filled":true,"color":"black","size":45,"opacity":1},
   "encoding":{"x":{"field":"e","type":"quantitative"},"y":{"datum":-3.72}}}
 ]}
]
}
